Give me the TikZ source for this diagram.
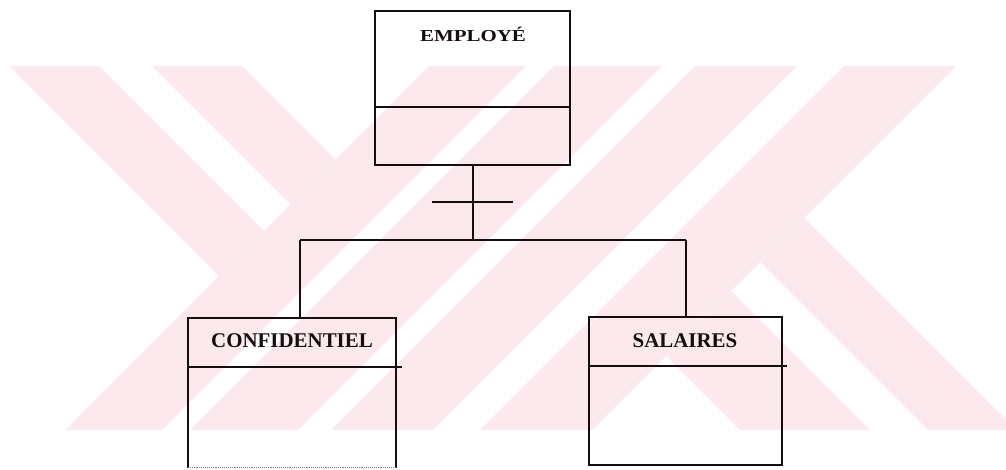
\documentclass[tikz,border=0pt]{standalone}
\usepackage{fontspec}
\setmainfont{Liberation Serif}
\definecolor{wmpink}{RGB}{252,233,237}
\definecolor{ink}{RGB}{20,14,14}
% parallelogram between two "/" lines (x+y = u) and two "\" lines (y-x = v)
\newcommand\uvband[4]{%
  \fill[wmpink] ({(#1-#3)/2},{(#1+#3)/2}) -- ({(#2-#3)/2},{(#2+#3)/2})
    -- ({(#2-#4)/2},{(#2+#4)/2}) -- ({(#1-#4)/2},{(#1+#4)/2}) -- cycle;}
\begin{document}
\begin{tikzpicture}[x=1bp,y=-1bp,
  entity/.style={inner sep=0pt,anchor=north west},
  title/.style={font=\fontsize{21}{24}\selectfont\bfseries,inner sep=0pt,anchor=base,text=ink},
  frame/.style={draw=ink,line width=2bp,line cap=rect},
  link/.style={draw=ink,line width=2bp}]
\useasboundingbox (0,0) rectangle (1006,470);

% striped background emblem
\begin{scope}
  \clip (0,67) rectangle (1006,430);
  % long "/" band with its three gaps
  \uvband{495}{592}{-2000}{2000}
  \uvband{620}{728}{-2000}{2000}
  \uvband{761}{863}{-2000}{2000}
  \uvband{910}{1022}{-2000}{2000}
  % upper-left "\" arm
  \uvband{-400}{495}{-176}{-86}
  \uvband{-400}{495}{-33}{57}
  % lower-right "\" arm
  \uvband{1022}{2200}{-586}{-498}
  \uvband{1022}{2200}{-440}{-310}
\end{scope}

% entities
\node[entity,minimum width=195bp,minimum height=154bp] (emp) at (375,11) {};
\node[entity,minimum width=208bp,minimum height=149bp] (conf) at (188,318) {};
\node[entity,minimum width=193bp,minimum height=148bp] (sal) at (589,317) {};

\draw[frame] (emp.south west) rectangle (emp.north east);
\draw[frame] (emp.west |- 0,107) -- (emp.east |- 0,107);

\draw[frame] (conf.south west) -- (conf.north west) -- (conf.north east) -- (conf.south east);
\draw[ink!55,line width=0.9bp,densely dotted] (conf.south west) -- (conf.south east);
\draw[frame] (conf.west |- 0,367) -- ([xshift=5bp]conf.east |- 0,367);

\draw[frame] (sal.south west) rectangle (sal.north east);
\draw[frame] (sal.west |- 0,366) -- ([xshift=4bp]sal.east |- 0,366);

\node[title] (empT) at (473,42) {\scalebox{1}[0.8]{EMPLOYÉ}};
\node[title] (confT) at (292,348) {CONFIDENTIEL};
\node[title] (salT) at (685,348) {SALAIRES};

% generalisation connector
\coordinate (hub) at (emp.south |- 0,240);
\coordinate (hubL) at (300,240);
\coordinate (hubR) at (sal.north |- 0,240);
\coordinate (barL) at (432,202);
\coordinate (barR) at (513,202);
\draw[link] (emp.south) -- (hub);
\draw[link] (barL) -- (barR);
\draw[link] (hubL) -- (hubR);
\draw[link] (hubL) -- (hubL |- conf.north);
\draw[link] (hubR) -- (sal.north);
\end{tikzpicture}
\end{document}
